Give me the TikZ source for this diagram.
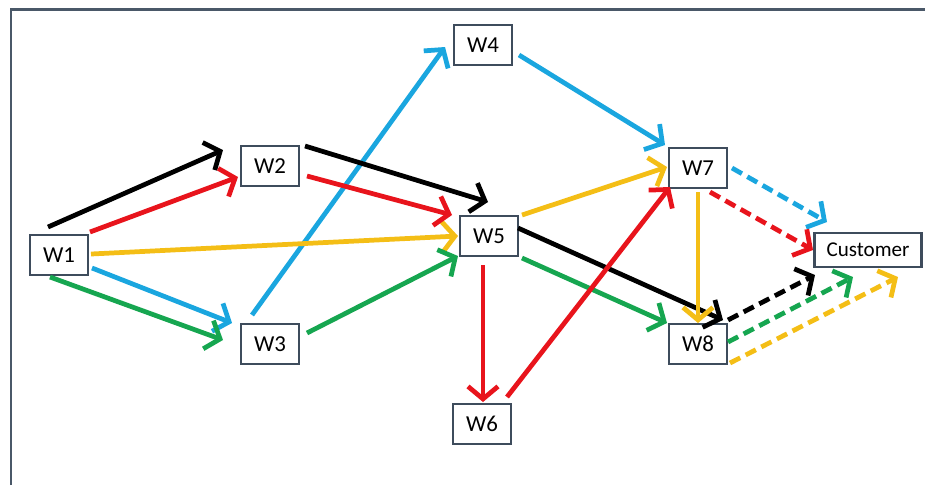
\documentclass[tikz,border=0pt]{standalone}
\usepackage{fontspec}
\setmainfont{Carlito}
\usepackage{tikz}
\usetikzlibrary{arrows.meta,calc,positioning}
\definecolor{wblue}{HTML}{1AA6DF}
\definecolor{wred}{HTML}{E8141C}
\definecolor{wyellow}{HTML}{F4BE16}
\definecolor{wgreen}{HTML}{16A650}
\definecolor{wframe}{HTML}{4A5868}
\definecolor{wbox}{HTML}{3E4C5C}

\begin{document}
\begin{tikzpicture}[x=0.02cm,y=-0.02cm,
	wh/.style={draw=wbox,line width=1.3pt,fill=white,minimum width=1.16cm,minimum height=0.8cm,inner sep=0pt,font=\fontsize{13}{15}\selectfont},
	route/.style={line width=2.7pt,-{Straight Barb[length=2.5mm,width=6mm]}},
	direct/.style={route,dash pattern=on 6.5pt off 3.5pt}]
	\useasboundingbox (0,0) rectangle (925,485);
	\draw[wframe,line width=1.7pt] (11,485) -- (11,9.5) -- (925,9.5);
	\node[wh] (w1) at (59,255) {W1};
	\node[wh] (w2) at (270,166) {W2};
	\node[wh] (w3) at (270,344) {W3};
	\node[wh] (w4) at (483,45) {W4};
	\node[wh] (w5) at (489,236) {W5};
	\node[wh] (w6) at (482,424) {W6};
	\node[wh] (w7) at (698,168) {W7};
	\node[wh] (w8) at (698,344) {W8};
	\node[wh,minimum width=2.14cm,minimum height=0.68cm,font=\fontsize{12}{14}\selectfont] (cust) at (868,250) {Customer};
	\draw[route,wblue]   ($(w3)+(-18,-29)$) -- ($(w4)+(-38,2)$);
	\draw[route,black]   ($(w1)+(-11,-28)$) -- ($(w2)+(-47,-16)$);
	\draw[route,wred]    ($(w1)+(31,-23)$)  -- ($(w2)+(-32,11)$);
	\draw[route,wyellow] ($(w1)+(32,-1)$)   -- ($(w5)+(-31,0)$);
	\draw[route,wblue]   ($(w1)+(33,13)$)   -- ($(w3)+(-38,-21)$);
	\draw[route,wgreen]  ($(w1)+(-9,22)$)   -- ($(w3)+(-47,-4)$);
	\draw[route,wgreen]  ($(w3)+(37,-11)$)  -- ($(w5)+(-31,20)$);
	\draw[route,black]   ($(w2)+(35,-20)$)  -- ($(w5)+(-1,-34)$);
	\draw[route,wred]    ($(w2)+(37,10)$)   -- ($(w5)+(-37,-21)$);
	\draw[route,wblue]   ($(w4)+(36,10)$)   -- ($(w7)+(-33,-23)$);
	\draw[route,wyellow] ($(w5)+(33,-21)$)  -- ($(w7)+(-31,-1)$);
	\draw[route,black]   ($(w5)+(29,-8)$)   -- ($(w8)+(25,-24)$);
	\draw[route,wgreen]  ($(w5)+(33,22)$)   -- ($(w8)+(-31,-21)$);
	\draw[route,wred]    ($(w5)+(-6,29)$)   -- ($(w6)+(1,-22)$);
	\draw[route,wred]    ($(w6)+(25,-27)$)  -- ($(w7)+(-28,19)$);
	\draw[route,wyellow] ($(w7)+(0,24)$)    -- ($(w8)+(0,-21)$);
	\draw[direct,wblue]   ($(w7)+(34,0)$)   -- ($(cust)+(-41,-28)$);
	\draw[direct,wred]    ($(w7)+(12,24)$)  -- ($(cust)+(-55,0)$);
	\draw[direct,black]   ($(w8)+(30,-24)$) -- ($(cust)+(-53,25)$);
	\draw[direct,wgreen]  ($(w8)+(30,-2)$)  -- ($(cust)+(-15,27)$);
	\draw[direct,wyellow] ($(w8)+(32,19)$)  -- ($(cust)+(30,27)$);
\end{tikzpicture}
\end{document}
